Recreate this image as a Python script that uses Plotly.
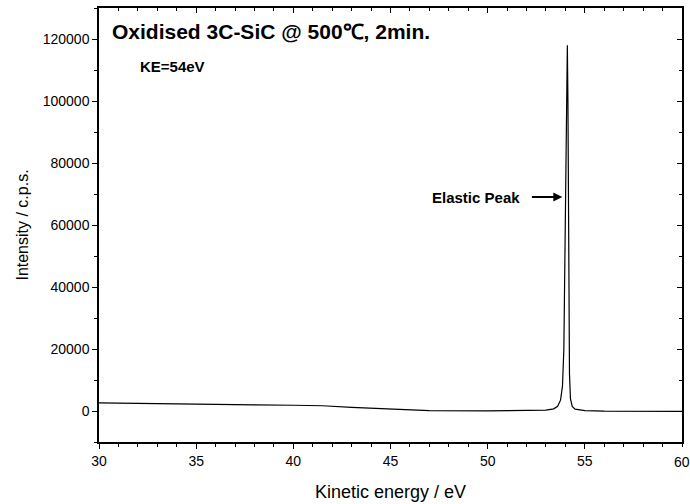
import plotly.graph_objects as go

energy = [30, 32, 34, 36, 38, 40, 41.5, 43, 44.5, 46, 47, 50, 52, 53, 53.4, 53.6, 53.75, 53.85,
          53.92, 53.98, 54.03, 54.08, 54.1, 54.13, 54.17, 54.21, 54.26, 54.35, 54.5, 55, 56, 58, 60]
intensity = [2600, 2400, 2250, 2150, 2000, 1850, 1700, 1200, 700, 250, 100, 50, 80, 300, 700, 1500,
             3500, 8000, 20000, 50000, 90000, 115000, 118000, 100000, 50000, 12000, 4000, 1500, 600,
             100, -50, -100, -100]

x_ticks = [30, 35, 40, 45, 50, 55, 60]
x_ticktext = ["30", "35", "40", "45", "50", "55", "60"]
y_ticks = [0, 20000, 40000, 60000, 80000, 100000, 120000]
y_ticktext = ["0", "20000", "40000", "60000", "80000", "100000", "120000"]
title_text = "Oxidised 3C-SiC @ 500\u2103, 2min."
ke_text = "KE=54eV"
peak_text = "Elastic Peak"

FONT = "Liberation Sans, Arial, sans-serif"
xr = [30, 60]
yr = [-10000, 130000]

fig = go.Figure()
fig.add_trace(go.Scatter(x=energy, y=intensity, mode="lines",
                         line=dict(color="black", width=1.2), showlegend=False, hoverinfo="skip"))
fig.add_trace(go.Scatter(x=[energy[0]], y=[intensity[0]], xaxis="x2", yaxis="y2", mode="markers",
                         marker=dict(opacity=0), showlegend=False, hoverinfo="skip"))

axis_common = dict(showgrid=False, zeroline=False, showline=True, linecolor="black", linewidth=1.5,
                   tickcolor="black", tickwidth=1.2, ticklen=5, automargin=False,
                   tickfont=dict(family=FONT, size=14, color="black"))

fig.update_layout(
    width=690, height=504,
    margin=dict(l=99, r=8, t=8, b=62),
    paper_bgcolor="white", plot_bgcolor="white",
    xaxis=dict(range=xr, tickvals=x_ticks[:-1], ticktext=x_ticktext[:-1], ticks="outside",
               minor=dict(ticks="outside", dtick=1, ticklen=3, tickcolor="black", tickwidth=1),
               title=dict(text="Kinetic energy / eV", font=dict(family=FONT, size=18, color="black"),
                          standoff=18),
               **axis_common),
    yaxis=dict(range=yr, tickvals=y_ticks, ticktext=y_ticktext, ticks="outside",
               minor=dict(ticks="outside", dtick=10000, ticklen=3, tickcolor="black", tickwidth=1),
               title=dict(text="Intensity / c.p.s.", font=dict(family=FONT, size=16, color="black"),
                          standoff=10),
               **axis_common),
    xaxis2=dict(range=xr, overlaying="x", side="top", anchor="y2", tickvals=x_ticks, ticks="inside",
                showticklabels=False,
                minor=dict(ticks="inside", dtick=1, ticklen=3, tickcolor="black", tickwidth=1),
                **axis_common),
    yaxis2=dict(range=yr, overlaying="y", side="right", anchor="x2", tickvals=y_ticks, ticks="inside",
                showticklabels=False,
                minor=dict(ticks="inside", dtick=10000, ticklen=3, tickcolor="black", tickwidth=1),
                **axis_common),
    annotations=[
        dict(x=30.55, y=122500, xref="x", yref="y", text="<b>" + title_text + "</b>", showarrow=False,
             xanchor="left", yanchor="middle", font=dict(family=FONT, size=21, color="black")),
        dict(x=32.0, y=111000, xref="x", yref="y", text="<b>" + ke_text + "</b>", showarrow=False,
             xanchor="left", yanchor="middle", font=dict(family=FONT, size=15, color="black")),
        dict(x=51.75, y=69000, xref="x", yref="y", text="<b>" + peak_text + "</b>", showarrow=False,
             xanchor="right", yanchor="middle", font=dict(family=FONT, size=15, color="black")),
        dict(x=53.84, y=69000, xref="x", yref="y", ax=52.2, ay=69000, axref="x", ayref="y",
             text="", showarrow=True, arrowhead=2, arrowsize=0.9, arrowwidth=2, arrowcolor="black"),
        dict(x=x_ticks[-1], y=-0.046, xref="x", yref="paper", text=x_ticktext[-1], showarrow=False,
             xanchor="center", yanchor="middle", font=dict(family=FONT, size=14, color="black")),
    ],
)

fig.write_html("out.html")
